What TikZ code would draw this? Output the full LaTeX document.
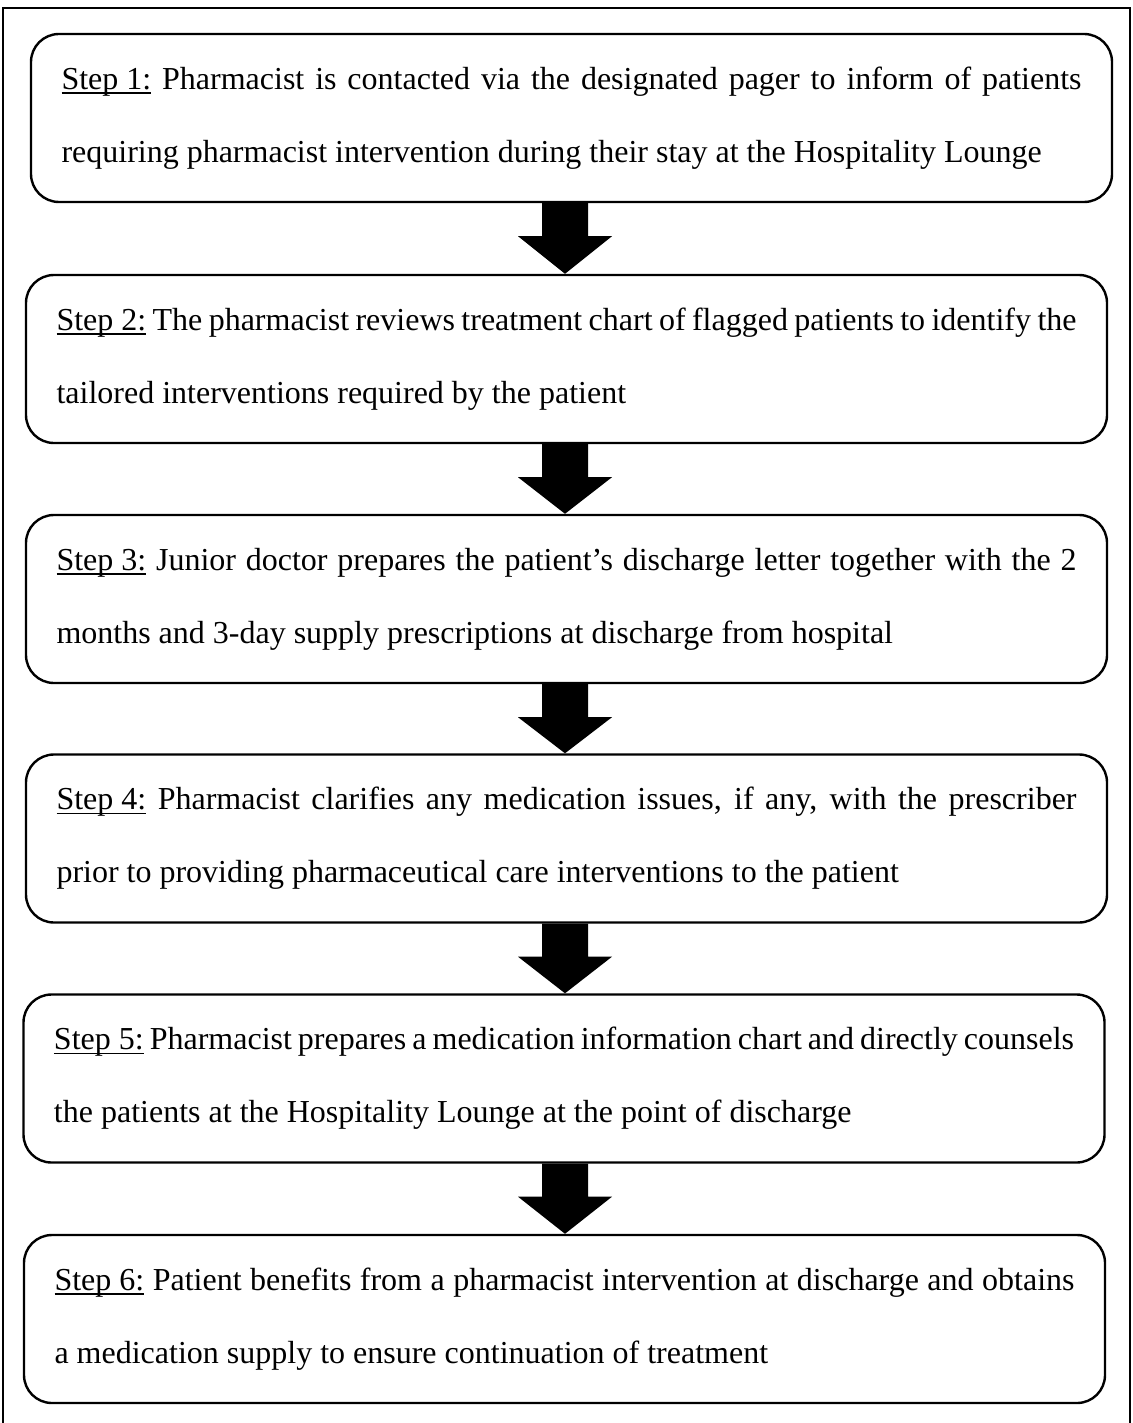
\documentclass[tikz,border=0pt]{standalone}
\usepackage{fontspec}
\setmainfont{Liberation Serif}
\usetikzlibrary{calc}
\hyphenpenalty=10000
\exhyphenpenalty=10000
\newsavebox\ulbox
\newcommand\stepul[1]{\sbox\ulbox{#1}\rlap{\rule[-2.2pt]{\wd\ulbox}{0.75pt}}\usebox\ulbox}
\tikzset{
  stepbox/.style={draw, line width=1.2pt, rounded corners=14pt,
    minimum width=540.5pt, minimum height=84pt, text width=510pt,
    align=justify, inner sep=0pt,
    font=\fontsize{16pt}{36.5pt}\selectfont},
  framebox/.style={draw, line width=1pt},
  flowarrow/.style={fill=black}
}
\newcommand\steparrow[2]{%
  \path[flowarrow] let \p1=(#1.south -| ax), \p2=(#2.north -| ax) in
    (\x1-11.5pt,\y1) -- (\x1+11.5pt,\y1) -- (\x1+11.5pt,\y1-16.5pt)
    -- (\x1+23.5pt,\y1-16.5pt) -- (\x2,\y2) -- (\x1-23.5pt,\y1-16.5pt)
    -- (\x1-11.5pt,\y1-16.5pt) -- cycle;}
\begin{document}
\begin{tikzpicture}[x=0.5pt,y=-0.5pt]
\useasboundingbox (0,0) rectangle (1132,1423);
\clip (0,0) rectangle (1132,1423);
\draw[framebox] (3,8) rectangle (1130,1450);
\coordinate (ax) at (565,0);
\node[stepbox] (b1) at (571.5,118) {\stepul{Step 1:} Pharmacist is contacted via the designated pager to inform of patients\linebreak requiring pharmacist intervention during their stay at the Hospitality Lounge};
\node[stepbox] (b2) at (566.5,359) {\stepul{Step 2:} The pharmacist reviews treatment chart of flagged patients to identify the\linebreak tailored interventions required by the patient};
\node[stepbox] (b3) at (566.5,599) {\stepul{Step 3:} Junior doctor prepares the patient’s discharge letter together with the 2\linebreak months and 3-day supply prescriptions at discharge from hospital};
\node[stepbox] (b4) at (566.5,838.5) {\stepul{Step 4:} Pharmacist clarifies any medication issues, if any, with the prescriber\linebreak prior to providing pharmaceutical care interventions to the patient};
\node[stepbox] (b5) at (564,1078.5) {\stepul{Step 5:} Pharmacist prepares a medication information chart and directly counsels\linebreak the patients at the Hospitality Lounge at the point of discharge};
\node[stepbox] (b6) at (564.5,1319) {\stepul{Step 6:} Patient benefits from a pharmacist intervention at discharge and obtains\linebreak a medication supply to ensure continuation of treatment};
\steparrow{b1}{b2}
\steparrow{b2}{b3}
\steparrow{b3}{b4}
\steparrow{b4}{b5}
\steparrow{b5}{b6}
\end{tikzpicture}
\end{document}
